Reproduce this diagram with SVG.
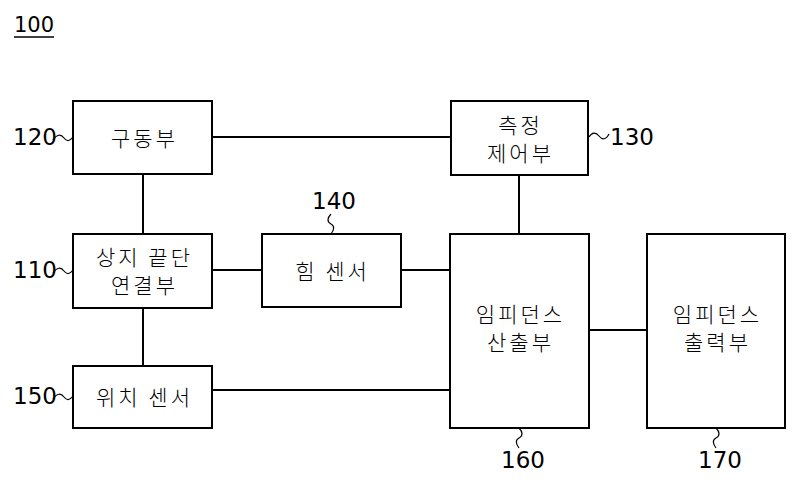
<svg xmlns="http://www.w3.org/2000/svg" width="800" height="484" viewBox="0 0 800 484">
<style>
.box{fill:#fff;stroke:#000;stroke-width:2}
.ln{stroke:#000;stroke-width:2;fill:none}
.sq{stroke:#000;stroke-width:1.2;fill:none}
.t{font-family:"Noto Sans CJK KR","Noto Sans",sans-serif;font-size:21px;font-weight:300;letter-spacing:3px;fill:#000;text-anchor:middle;dominant-baseline:central}
.n{font-family:"DejaVu Sans","Noto Sans",sans-serif;font-size:23px;fill:#000;dominant-baseline:central}
</style>
<rect width="800" height="484" fill="#fff"/>
<g id="title">
<text class="n" x="14" y="25" style="font-size:21px">100</text>
<line class="sq" x1="14" y1="37" x2="54" y2="37" style="stroke-width:1.5"/>
</g>
<g id="connectors">
<line class="ln" x1="212" y1="137" x2="450" y2="137"/>
<line class="ln" x1="143" y1="174" x2="143" y2="234"/>
<line class="ln" x1="212" y1="270" x2="262" y2="270"/>
<line class="ln" x1="401" y1="270" x2="450" y2="270"/>
<line class="ln" x1="143" y1="308" x2="143" y2="366"/>
<line class="ln" x1="212" y1="390" x2="450" y2="390"/>
<line class="ln" x1="519" y1="175" x2="519" y2="234"/>
<line class="ln" x1="589" y1="330" x2="647" y2="330"/>
</g>
<g id="n120">
<rect class="box" x="73" y="101" width="139" height="73"/>
<text class="t" x="144.5" y="137">구동부</text>
<text class="n" x="13" y="137">120</text>
<path class="sq" d="M53,140 C57,134 61,134 64,138 C67,142 70,141 73,137"/>
</g>
<g id="n110">
<rect class="box" x="73" y="234" width="139" height="74"/>
<text class="t" x="144.5" y="256">상지 끝단</text>
<text class="t" x="144.5" y="284">연결부</text>
<text class="n" x="13" y="270">110</text>
<path class="sq" d="M53,273 C57,267 61,267 64,271 C67,275 70,274 73,270"/>
</g>
<g id="n150">
<rect class="box" x="73" y="366" width="139" height="62"/>
<text class="t" x="144.5" y="396">위치 센서</text>
<text class="n" x="13" y="396">150</text>
<path class="sq" d="M53,399 C57,393 61,393 64,397 C67,401 70,400 73,396"/>
</g>
<g id="n130">
<rect class="box" x="451" y="101" width="137" height="74"/>
<text class="t" x="520.5" y="124">측정</text>
<text class="t" x="520.5" y="152">제어부</text>
<text class="n" x="610" y="137">130</text>
<path class="sq" d="M589,137 C592,132 596,132 599,136 C602,140 606,140 609,134"/>
</g>
<g id="n140">
<rect class="box" x="262" y="234" width="139" height="73"/>
<text class="t" x="332.5" y="270">힘 센서</text>
<text class="n" x="312" y="201">140</text>
<path class="sq" d="M331,214 C327,218 327,222 331,224 C335,226 334,230 331,234"/>
</g>
<g id="n160">
<rect class="box" x="450" y="234" width="139" height="194"/>
<text class="t" x="520.5" y="313">임피던스</text>
<text class="t" x="520.5" y="341">산출부</text>
<text class="n" x="501" y="460">160</text>
<path class="sq" d="M519,428 C523,432 523,436 519,438 C515,440 516,444 519,448"/>
</g>
<g id="n170">
<rect class="box" x="647" y="234" width="138" height="194"/>
<text class="t" x="717.5" y="313">임피던스</text>
<text class="t" x="717.5" y="341">출력부</text>
<text class="n" x="698" y="460">170</text>
<path class="sq" d="M716,428 C720,432 720,436 716,438 C712,440 713,444 716,448"/>
</g>
</svg>
